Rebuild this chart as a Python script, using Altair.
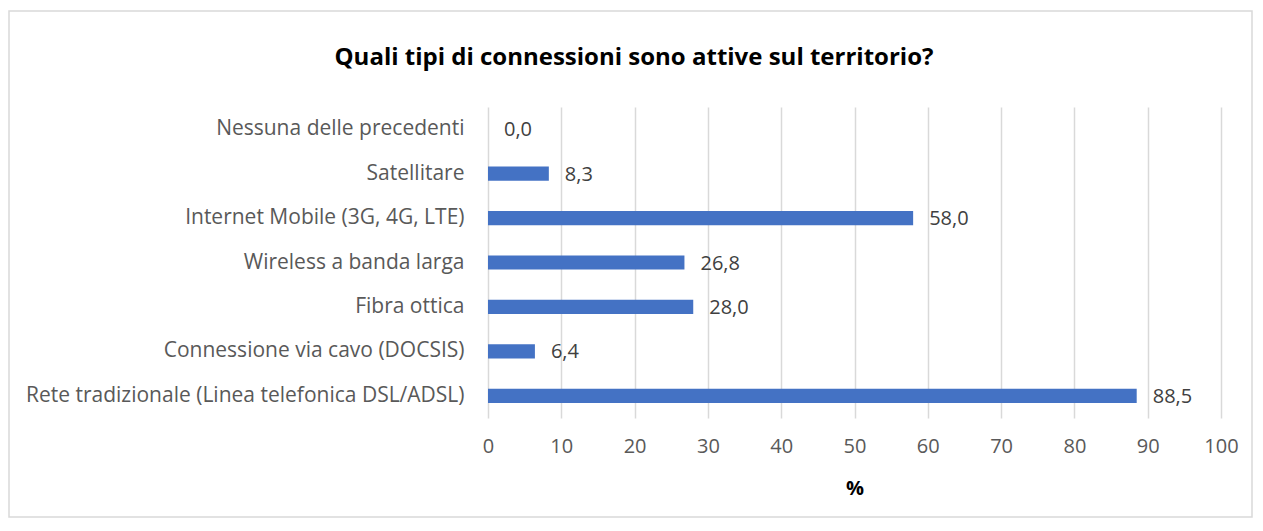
import altair as alt
import pandas as pd

categories = [
    "Nessuna delle precedenti",
    "Satellitare",
    "Internet Mobile (3G, 4G, LTE)",
    "Wireless a banda larga",
    "Fibra ottica",
    "Connessione via cavo (DOCSIS)",
    "Rete tradizionale (Linea telefonica DSL/ADSL)",
]
values = [0.0, 8.3, 58.0, 26.8, 28.0, 6.4, 88.5]
title_text = "Quali tipi di connessioni sono attive sul territorio?"

df = pd.DataFrame({"cat": categories, "val": values})

FONT = "Open Sans"
GRAY = "#595959"

base = alt.Chart(df)

bars = base.mark_bar(color="#4472C4").encode(
    y=alt.Y("cat:N", sort=categories, title=None,
            scale=alt.Scale(paddingInner=0.68, paddingOuter=0.34),
            axis=alt.Axis(labelFont=FONT, labelFontSize=21, labelColor=GRAY,
                          ticks=False, domain=False, labelPadding=24,
                          labelLimit=600, grid=False)),
    x=alt.X("val:Q", title="%",
            scale=alt.Scale(domain=[0, 100], nice=False),
            axis=alt.Axis(values=list(range(0, 101, 10)), labelFont=FONT,
                          labelFontSize=20, labelColor=GRAY, ticks=False,
                          labelFlush=False,
                          domain=False, grid=True, gridColor="#d9d9d9",
                          gridWidth=1.5, labelPadding=18,
                          titleFont=FONT, titleFontSize=20, titleFontWeight="bold",
                          titleColor="#000000", titlePadding=22)),
)

labels = base.transform_calculate(
    lab="replace(format(datum.val, '.1f'), '.', ',')"
).mark_text(align="left", baseline="middle", dx=16, dy=1, font=FONT,
            fontSize=20, color="#404040").encode(
    y=alt.Y("cat:N", sort=categories),
    x="val:Q",
    text="lab:N",
)

title = alt.Chart(pd.DataFrame({"t": [title_text]})).mark_text(
    align="center", baseline="middle", font=FONT, fontSize=24,
    fontWeight="bold", color="#000000"
).encode(x=alt.value(146), y=alt.value(-49), text="t:N")

border = alt.Chart(pd.DataFrame({"a": [0]})).mark_rect(
    fill=None, stroke="#d9d9d9", strokeWidth=1.5
).encode(x=alt.value(-479), x2=alt.value(764), y=alt.value(-96), y2=alt.value(410))

chart = alt.layer(border, bars, labels, title).properties(
    width=733, height=311,
    autosize=alt.AutoSizeParams(type="none"),
    padding={"left": 480, "top": 99, "right": 32, "bottom": 101},
).configure_view(stroke=None)

chart.save("out.html", embed_options={"renderer": "svg", "actions": False})
